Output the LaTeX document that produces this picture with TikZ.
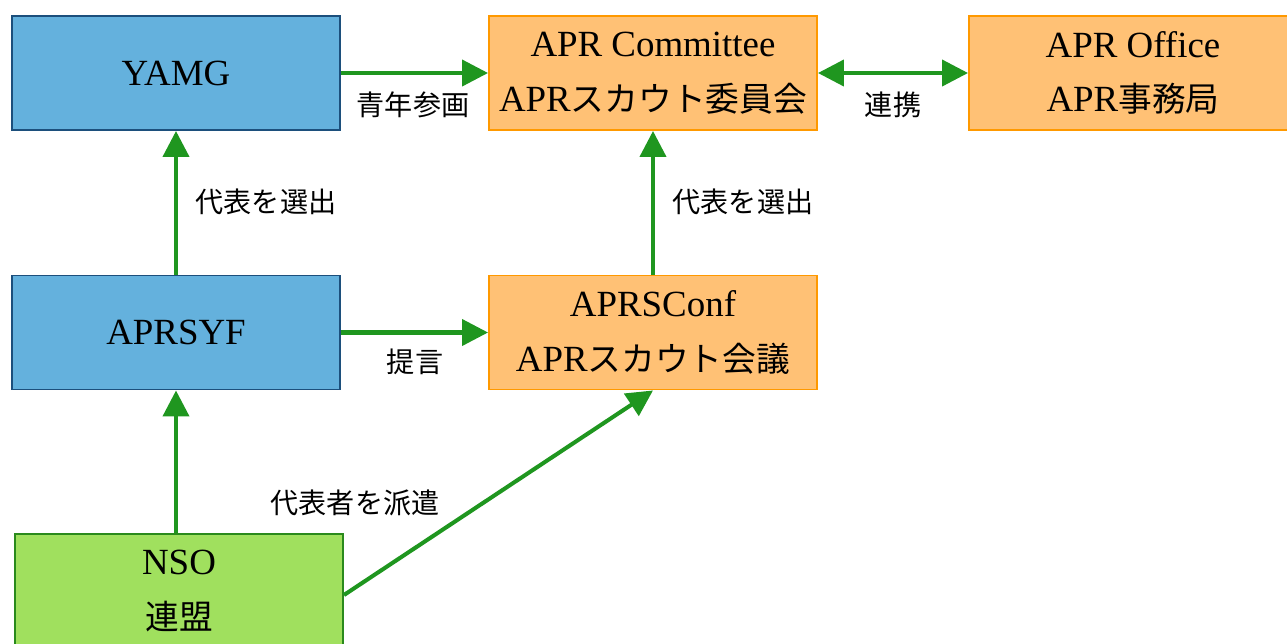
\documentclass[tikz,border=0pt]{standalone}
\usepackage{fontspec}
\usepackage{xcolor}
\usetikzlibrary{arrows.meta}
\setmainfont{Liberation Serif}
\newfontfamily\cjk{Noto Sans CJK JP}
\newcommand{\jp}[1]{{\cjk\fontsize{19.2}{31}\selectfont #1}}

\definecolor{boxblue}{HTML}{64B1DD}
\definecolor{lineblue}{HTML}{1C4F7C}
\definecolor{boxorange}{HTML}{FFC175}
\definecolor{lineorange}{HTML}{FF9900}
\definecolor{boxgreen}{HTML}{A0E05E}
\definecolor{linegreen}{HTML}{2A8A1C}
\definecolor{arrowgreen}{HTML}{1F961F}

\tikzstyle{box} = [rectangle, minimum width=6.56cm, minimum height=2.28cm, inner sep=0pt, align=center, line width=1.1pt, font=\fontsize{21}{31}\selectfont]
\tikzstyle{youthbox} = [box, draw=lineblue, fill=boxblue]
\tikzstyle{aprbox} = [box, draw=lineorange, fill=boxorange]
\tikzstyle{nsobox} = [box, draw=linegreen, fill=boxgreen]
\tikzstyle{lbl} = [font=\cjk\fontsize{16}{18}\selectfont, inner sep=0pt]
\tikzstyle{arrow} = [line width=2.3pt, draw=arrowgreen, -{Triangle[length=0.52cm, width=0.52cm]}]
\tikzstyle{dblarrow} = [arrow, {Triangle[length=0.52cm, width=0.52cm]}-{Triangle[length=0.52cm, width=0.52cm]}]

\begin{document}
\begin{tikzpicture}

\useasboundingbox (0,0) rectangle (25.74,-12.86);

% Nodes
\node (YAMG) [youthbox] at (3.52,-1.46) {YAMG}; % Top-left
\node (comm) [aprbox] at (13.06,-1.46) {APR Committee\\APR\jp{スカウト委員会}}; % Top-center
\node (office) [aprbox] at (22.66,-1.46) {APR Office\\APR\jp{事務局}}; % Top-right
\node (YF) [youthbox] at (3.52,-6.65) {APRSYF}; % Middle-left
\node (conf) [aprbox] at (13.06,-6.65) {APRSConf\\APR\jp{スカウト会議}}; % Middle-center
\node (NSO) [nsobox] at (3.58,-11.82) {NSO\\\jp{連盟}}; % Bottom-left

% Labels
\node (l1) [lbl] at (8.26,-2.1) {青年参画};
\node (l2) [lbl] at (17.86,-2.1) {連携};
\node (l3) [lbl] at (5.32,-4.04) {代表を選出};
\node (l4) [lbl] at (14.86,-4.04) {代表を選出};
\node (l5) [lbl] at (8.3,-7.24) {提言};
\node (l6) [lbl] at (7.1,-10.06) {代表者を派遣};

% Arrows
\draw [arrow] (YAMG) -- (comm);
\draw [dblarrow] (comm) -- (office);
\draw [arrow] (YF) -- (YAMG);
\draw [arrow] (conf) -- (comm);
\draw [arrow] (YF) -- (conf);
\draw [arrow] (YF.south |- NSO.north) -- (YF.south);
\draw [arrow] (NSO.east |- 0,-11.9) -- (conf.south);

\end{tikzpicture}
\end{document}
